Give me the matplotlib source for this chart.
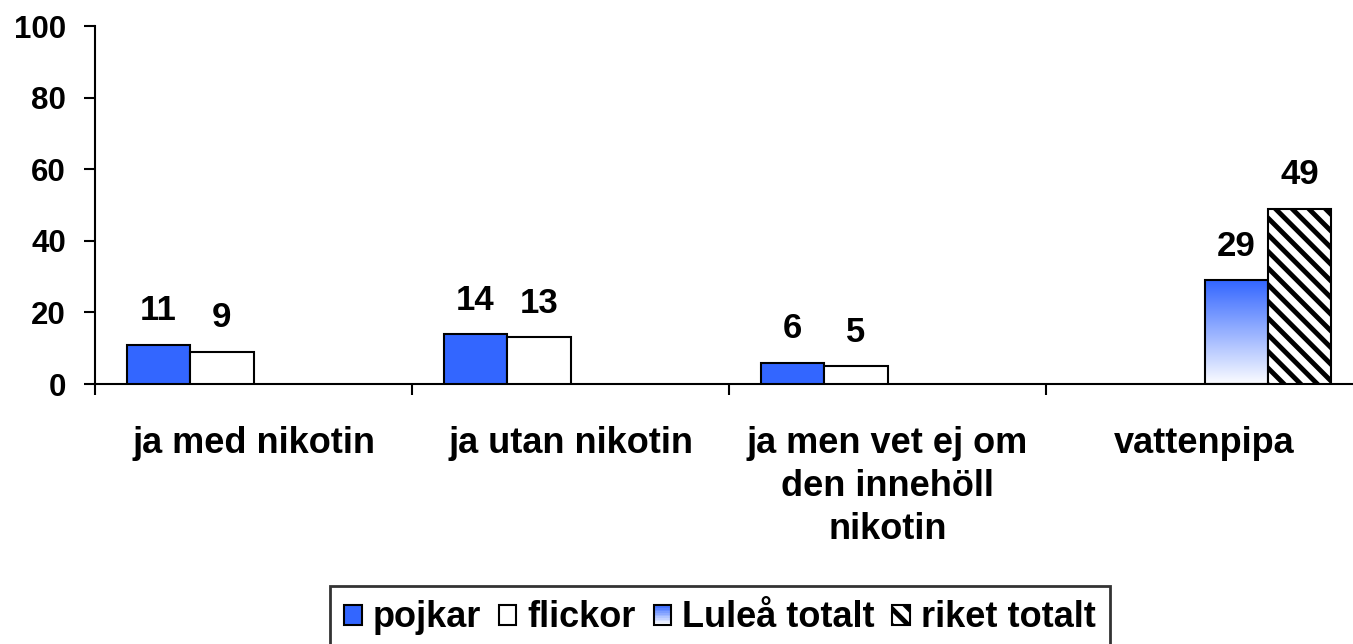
import numpy as np
import matplotlib
matplotlib.use("Agg")
import matplotlib.pyplot as plt
from matplotlib.patches import Rectangle
from matplotlib.legend_handler import HandlerBase
from matplotlib.colors import LinearSegmentedColormap

categories = ["ja med nikotin", "ja utan nikotin", "ja men vet ej om\nden innehöll\nnikotin", "vattenpipa"]
series_names = ["pojkar", "flickor", "Luleå totalt", "riket totalt"]
pojkar = [11, 14, 6, None]
flickor = [9, 13, 5, None]
lulea_totalt = [None, None, None, 29]
riket_totalt = [None, None, None, 49]
yticks = [0, 20, 40, 60, 80, 100]

BLUE = "#3366FF"
plt.rcParams["font.family"] = ["Liberation Sans", "DejaVu Sans"]
plt.rcParams["font.weight"] = "bold"
plt.rcParams["hatch.linewidth"] = 3.5
plt.rcParams["hatch.color"] = "black"

W, H = 1353, 644
fig = plt.figure(figsize=(W / 100, H / 100), dpi=100)
ax = fig.add_axes([95 / W, 260 / H, 1268 / W, 358 / H])

x = np.arange(len(categories))
bw = 0.2
offsets = [-0.3, -0.1, 0.1, 0.3]
all_series = [pojkar, flickor, lulea_totalt, riket_totalt]
styles = [dict(facecolor=BLUE), dict(facecolor="white"),
          dict(facecolor="none"), dict(facecolor="white", hatch="\\\\")]

cmap = LinearSegmentedColormap.from_list("g", ["white", BLUE])
for s, (vals, off, st) in enumerate(zip(all_series, offsets, styles)):
    for i, v in enumerate(vals):
        if v is None:
            continue
        b = ax.bar(x[i] + off, v, width=bw, edgecolor="black", linewidth=1.5, zorder=3, **st)[0]
        if s == 2:
            grad = np.linspace(0, 1, 256).reshape(-1, 1)
            im = ax.imshow(grad, extent=[b.get_x(), b.get_x() + b.get_width(), 0, v],
                           origin="lower", cmap=cmap, aspect="auto", zorder=2,
                           vmin=-0.02, vmax=1)
            im.set_clip_path(b)
        ax.annotate(str(v), (x[i] + off, v), xytext=(0, 12.5), textcoords="offset points",
                    ha="center", va="bottom", fontsize=25, fontweight="bold")

ax.set_xlim(-0.5, len(categories) - 0.5)
ax.set_ylim(0, 100)
ax.set_yticks(yticks)
ax.set_yticklabels([str(t) for t in yticks], fontsize=22.5, fontweight="bold")
ax.set_xticks(x)
ax.set_xticklabels(categories, fontsize=26, fontweight="bold", linespacing=1.3, va="top")
ax.tick_params(axis="x", which="major", length=0, pad=30)
ax.set_xticks(np.arange(-0.5, len(categories), 1.0), minor=True)
ax.tick_params(axis="x", which="minor", length=8, width=1.5, direction="out")
ax.tick_params(axis="y", length=8, width=1.5, direction="out", pad=13)
for sp in ["top", "right"]:
    ax.spines[sp].set_visible(False)
for sp in ["left", "bottom"]:
    ax.spines[sp].set_linewidth(1.5)


class GradientHandler(HandlerBase):
    def create_artists(self, legend, orig_handle, xdescent, ydescent, width, height, fontsize, trans):
        arts = []
        n = 12
        for k in range(n):
            c = cmap(1 - k / (n - 1) * 0.97)
            arts.append(Rectangle((-xdescent, -ydescent + height * (n - 1 - k) / n), width, height / n,
                                  facecolor=c, edgecolor="none", transform=trans))
        arts.append(Rectangle((-xdescent, -ydescent), width, height, facecolor="none",
                              edgecolor="black", linewidth=1.5, transform=trans))
        return arts


h_p = Rectangle((0, 0), 1, 1, facecolor=BLUE, edgecolor="black", linewidth=1.5)
h_f = Rectangle((0, 0), 1, 1, facecolor="white", edgecolor="black", linewidth=1.5)
h_l = Rectangle((0, 0), 1, 1, facecolor="none", edgecolor="black", linewidth=1.5)
h_r = Rectangle((0, 0), 1, 1, facecolor="white", edgecolor="black", linewidth=1.5, hatch="\\\\")
leg = fig.legend([h_p, h_f, h_l, h_r], series_names, loc="upper center",
                 bbox_to_anchor=(720 / W, 58 / H), ncol=4, frameon=True, fancybox=False,
                 edgecolor="black", handlelength=0.48, handleheight=0.48,
                 handletextpad=0.3, columnspacing=0.5, borderpad=0.4, borderaxespad=0,
                 handler_map={h_l: GradientHandler()},
                 prop={"weight": "bold", "size": 26})
leg.get_frame().set_linewidth(2)

fig.savefig("out.png", dpi=100)
